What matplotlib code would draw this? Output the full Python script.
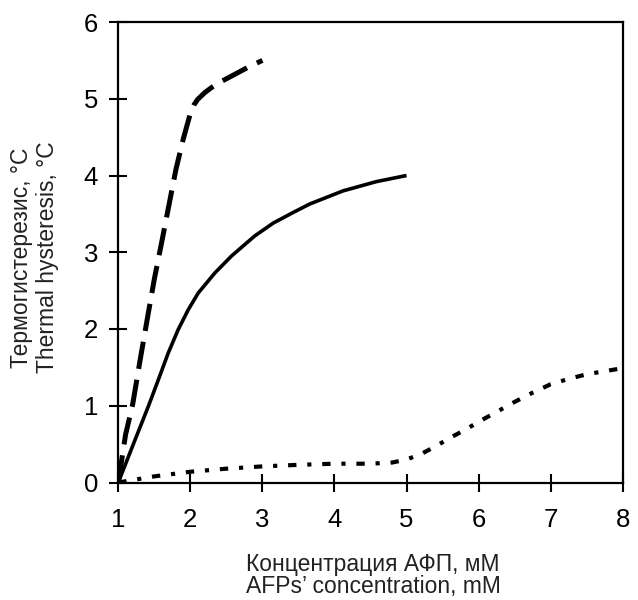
import matplotlib
matplotlib.use("Agg")
import matplotlib.pyplot as plt

plt.rcParams['font.family'] = ['Liberation Sans', 'DejaVu Sans']

# Dashed series (steep)
x_dash = [1.0, 1.1, 1.2, 1.3, 1.4, 1.5, 1.6, 1.7, 1.8, 1.9, 1.95, 2.0, 2.05, 2.1, 2.2, 2.3, 2.4, 2.6, 2.8, 3.0]
y_dash = [0.0, 0.62, 1.02, 1.58, 2.12, 2.65, 3.12, 3.6, 4.08, 4.47, 4.64, 4.81, 4.92, 4.99, 5.08, 5.15, 5.21, 5.31, 5.41, 5.5]

# Solid series
x_solid = [1.0, 1.23, 1.42, 1.56, 1.69, 1.83, 1.97, 2.11, 2.34, 2.57, 2.89, 3.15, 3.43, 3.66, 4.12, 4.58, 5.0]
y_solid = [0.0, 0.55, 1.0, 1.35, 1.68, 1.99, 2.25, 2.47, 2.73, 2.95, 3.21, 3.38, 3.52, 3.63, 3.80, 3.92, 4.0]

# Dotted series
x_dot = [1.0, 1.5, 2.0, 2.5, 3.0, 3.5, 4.0, 4.5, 4.8, 5.0, 5.2, 5.4, 5.6, 5.8, 6.0, 6.25, 6.5, 6.75, 7.0, 7.25, 7.5, 7.75, 8.0]
y_dot = [0.0, 0.08, 0.14, 0.18, 0.21, 0.23, 0.245, 0.245, 0.26, 0.30, 0.37, 0.47, 0.58, 0.68, 0.79, 0.92, 1.05, 1.17, 1.28, 1.35, 1.41, 1.45, 1.49]

x_ticks = [1, 2, 3, 4, 5, 6, 7, 8]
y_ticks = [0, 1, 2, 3, 4, 5, 6]

W, H = 638, 600
L, R, T, B = 118.3, 622.7, 22.0, 482.5

fig = plt.figure(figsize=(W / 100, H / 100), dpi=100)
ax = fig.add_axes([L / W, 1 - B / H, (R - L) / W, (B - T) / H])

ax.plot(x_solid, y_solid, color='black', lw=2.6, solid_capstyle='butt', solid_joinstyle='round')
ax.plot(x_dash, y_dash, color='black', lw=3.6, dashes=(5.5, 2.2), dash_capstyle='butt', dash_joinstyle='round')
ax.plot(x_dot, y_dot, color='black', lw=3.0, dashes=(2.0, 2.6, 1.0, 2.6), dash_capstyle='butt')

ax.set_xlim(1, 8)
ax.set_ylim(0, 6)
ax.set_xticks(x_ticks)
ax.set_yticks(y_ticks)
ax.tick_params(direction='inout', length=13, width=1.5, labelsize=18.5, pad=8, colors='black')
ax.tick_params(axis='x', pad=12)
for s in ax.spines.values():
    s.set_linewidth(1.6)

ax.set_xlabel('Концентрация АФП, мМ\nAFPs\u2019 concentration, mM', fontsize=16.5,
              linespacing=0.97, color='#222222')
ax.set_ylabel('Термогистерезис, °C\nThermal hysteresis, °C', fontsize=16.5,
              linespacing=1.17, color='#222222')
ax.xaxis.set_label_coords((373 - L) / (R - L), (B - 553) / (B - T))
ax.yaxis.set_label_coords((59 - L) / (R - L), (B - 257.5) / (B - T))

fig.savefig('out.png', dpi=100)
